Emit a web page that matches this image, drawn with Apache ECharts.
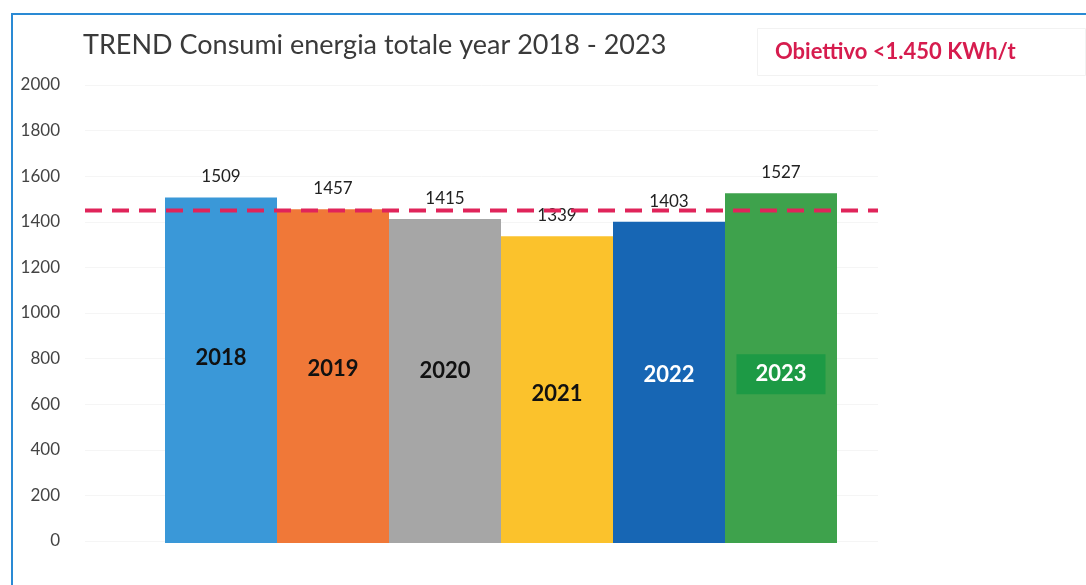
<!DOCTYPE html>
<html>
<head>
<meta charset="utf-8">
<script src="https://cdn.jsdelivr.net/npm/echarts@6/dist/echarts.min.js"></script>
<style>
html,body{margin:0;padding:0;background:#fff;}
#c{width:1086px;height:585px;}
</style>
</head>
<body>
<div id="c"></div>
<script>
var categories = ['2018', '2019', '2020', '2021', '2022', '2023'];
var values = [1509, 1457, 1415, 1339, 1403, 1527];
var barColors = ['#3a98d8', '#f07838', '#a6a6a6', '#fbc22c', '#1766b4', '#3ea24c'];
var targetValue = 1450;
var targetLine = [[0, targetValue], [1, targetValue]];
var yMin = 0, yMax = 2000, yInterval = 200;

var FONT = 'Lato, "Open Sans", sans-serif';

var innerLabelStyles = [
  { color: '#111', offset: [0, -12] },
  { color: '#111', offset: [0, -7] },
  { color: '#111', offset: [0, -10] },
  { color: '#111', offset: [0, 4] },
  { color: '#fff', offset: [0, -7], fontWeight: 'bold' },
  { color: '#fff', offset: [0, 6], backgroundColor: '#1d9a45', padding: [9, 19, 9, 19] }
];

var chart = echarts.init(document.getElementById('c'));
chart.setOption({
  backgroundColor: '#fff',
  animation: false,
  title: [
    {
      text: 'TREND Consumi energia totale year 2018 - 2023',
      left: 78, top: 27,
      textStyle: { fontFamily: FONT, fontSize: 27, fontWeight: 'normal', color: '#3a3a3a' }
    },
    {
      text: 'Obiettivo <1.450 KWh/t',
      left: 757, top: 28,
      padding: [13, 70, 13, 18],
      borderColor: '#f2f2f2', borderWidth: 1,
      textStyle: { fontFamily: FONT, fontSize: 22, fontWeight: 'bold', color: '#d61c4e' }
    }
  ],
  graphic: [
    {
      type: 'rect', silent: true,
      shape: { x: 12, y: 14, width: 1100, height: 600 },
      style: { fill: 'none', stroke: '#2a8ad4', lineWidth: 2 }
    }
  ],
  grid: [
    { left: 165, right: 249, top: 85, bottom: 42 },
    { left: 85, right: 208, top: 85, bottom: 44 }
  ],
  xAxis: [
    { type: 'category', gridIndex: 0, data: categories, axisLine: { show: false }, axisTick: { show: false }, axisLabel: { show: false } },
    { type: 'value', gridIndex: 1, min: 0, max: 1, show: false }
  ],
  yAxis: [
    { type: 'value', gridIndex: 0, min: yMin, max: yMax, interval: yInterval, show: false },
    {
      type: 'value', gridIndex: 1, min: yMin, max: yMax, interval: yInterval,
      axisLine: { show: false }, axisTick: { show: false },
      splitLine: { show: true, lineStyle: { color: '#f5f5f5', width: 1 } },
      axisLabel: { margin: 25, fontFamily: FONT, fontSize: 17, color: '#444', formatter: function (v) { return String(v); } }
    }
  ],
  series: [
    {
      type: 'bar', xAxisIndex: 0, yAxisIndex: 0,
      barCategoryGap: 0, barGap: '-100%',
      data: values.map(function (v, i) { return { value: v, itemStyle: { color: barColors[i] } }; }),
      label: { show: true, position: 'top', distance: 12, fontFamily: FONT, fontSize: 17, color: '#222' },
      z: 2
    },
    {
      type: 'bar', xAxisIndex: 0, yAxisIndex: 0,
      barCategoryGap: 0, barGap: '-100%',
      data: values.map(function (v, i) {
        var s = innerLabelStyles[i];
        return {
          value: v,
          itemStyle: { color: 'rgba(0,0,0,0)' },
          label: Object.assign({ show: true, position: 'inside', formatter: '{b}', fontFamily: FONT, fontSize: 22, fontWeight: 'bold' }, s)
        };
      }),
      silent: true,
      z: 3
    },
    {
      type: 'line', xAxisIndex: 1, yAxisIndex: 1,
      data: targetLine,
      symbol: 'none',
      lineStyle: { color: '#e0245a', width: 4, type: [17, 10] },
      z: 5
    }
  ]
});
</script>
</body>
</html>
